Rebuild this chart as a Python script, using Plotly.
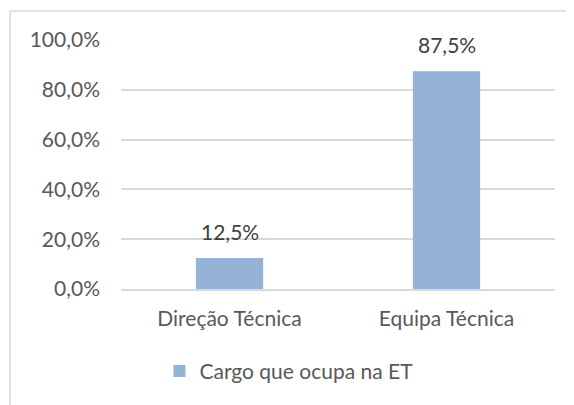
import plotly.graph_objects as go

categories = ["Direção Técnica", "Equipa Técnica"]
values = [0.125, 0.875]
series_name = "Cargo que ocupa na ET"
tick_vals = [0, 0.2, 0.4, 0.6, 0.8, 1.0]

OFF = 8  # default page body margin
W, H = 574 - OFF, 405 - OFF
ML, MR, MT, MB = 121 - OFF, 19, 40 - OFF, 116
PW, PH = W - ML - MR, H - MT - MB

FONT = "Lato"
TXT = "#595959"
FS = 21

fig = go.Figure()
fig.add_trace(go.Bar(
    x=categories, y=values, name=series_name,
    marker=dict(color="#95B3D7", line=dict(width=0)),
    width=0.31, showlegend=True,
))

for c, v in zip(categories, values):
    fig.add_annotation(
        x=c, y=v, text=f"{v*100:.1f}%".replace(".", ","),
        showarrow=False, yanchor="bottom", yshift=12,
        font=dict(family=FONT, size=FS, color="#404040"),
    )

# chart-area border (top and left edges visible)
bx = (10 - OFF - ML) / PW
by = 1 + (MT - (11 - OFF)) / PH
fig.add_shape(type="line", xref="paper", yref="paper", x0=bx, x1=1.2, y0=by, y1=by,
              line=dict(color="#D9D9D9", width=1.5))
fig.add_shape(type="line", xref="paper", yref="paper", x0=bx, x1=bx, y0=by, y1=-0.6,
              line=dict(color="#D9D9D9", width=1.5))

fig.update_layout(
    width=W, height=H,
    margin=dict(l=ML, r=MR, t=MT, b=MB),
    paper_bgcolor="white", plot_bgcolor="white",
    separators=",.",
    font=dict(family=FONT, size=FS, color=TXT),
    bargap=0.69,
    legend=dict(orientation="h", x=0.387, xanchor="center", y=-0.331, yanchor="middle",
                font=dict(family=FONT, size=FS, color=TXT), itemwidth=30,
                bgcolor="rgba(0,0,0,0)"),
    xaxis=dict(showgrid=False, showline=True, linecolor="#D9D9D9", linewidth=1.5,
               ticks="", ticklabelstandoff=10,
               tickfont=dict(family=FONT, size=FS, color=TXT)),
    yaxis=dict(range=[0, 1.0], tickvals=tick_vals, tickformat=".1%",
               showgrid=True, gridcolor="#D9D9D9", gridwidth=1.5,
               zeroline=False, showline=False, ticks="",
               ticklabelstandoff=20,
               tickfont=dict(family=FONT, size=FS, color=TXT)),
)

fig.write_html("out.html")
